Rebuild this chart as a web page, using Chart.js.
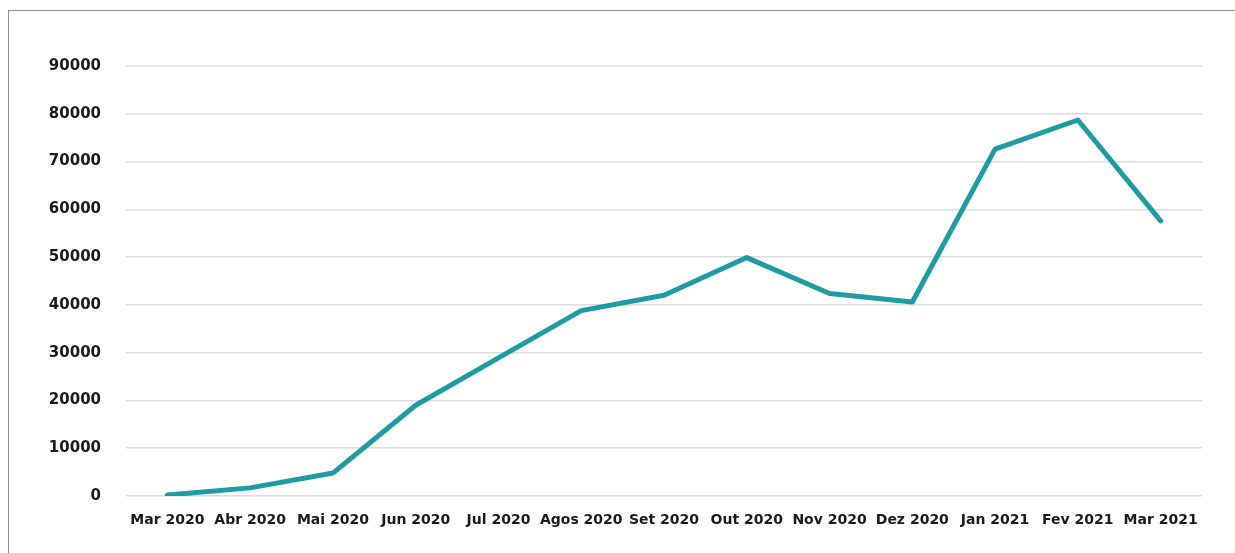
<!DOCTYPE html>
<html lang="pt">
<head>
    <meta charset="UTF-8">
    <title>Evolução mensal</title>
    <script src="https://cdn.jsdelivr.net/npm/chart.js@4.4.0/dist/chart.umd.min.js"></script>
    <style>
        html, body {
            margin: 0;
            padding: 0;
            background: #ffffff;
            overflow: hidden;
        }
        .frame {
            position: absolute;
            left: 8px;
            top: 10px;
            width: 1400px;
            height: 700px;
            border: 1px solid #8c8c8c;
        }
        .chart-box {
            position: absolute;
            left: 0;
            top: 0;
            width: 1235px;
            height: 553px;
        }
    </style>
</head>
<body>
    <div class="frame"></div>
    <div class="chart-box">
        <canvas id="lineChart"></canvas>
    </div>

    <script>
        // months on the x axis
        const months = ['Mar 2020', 'Abr 2020', 'Mai 2020', 'Jun 2020', 'Jul 2020', 'Agos 2020',
            'Set 2020', 'Out 2020', 'Nov 2020', 'Dez 2020', 'Jan 2021', 'Fev 2021', 'Mar 2021'];

        // values
        const values = [200, 1700, 4800, 19000, 28900, 38800, 42000, 49900, 42400, 40600, 72600, 78700, 57600];

        // y axis range
        const yMin = 0;
        const yMax = 90000;
        const yStep = 10000;

        new Chart(document.getElementById('lineChart'), {
            type: 'line',
            data: {
                labels: months,
                datasets: [{
                    data: values,
                    borderColor: '#1e9ca3',
                    borderWidth: 5,
                    tension: 0,
                    pointRadius: 0,
                    fill: false,
                    borderCapStyle: 'round',
                    borderJoinStyle: 'round'
                }]
            },
            options: {
                responsive: true,
                maintainAspectRatio: false,
                animation: false,
                layout: {
                    padding: { top: 66, right: 33, left: 0, bottom: 0 }
                },
                plugins: {
                    legend: { display: false },
                    tooltip: { enabled: false }
                },
                scales: {
                    x: {
                        offset: true,
                        grid: { display: false },
                        border: { display: false },
                        ticks: {
                            color: '#1a1a1a',
                            font: { family: 'DejaVu Sans', weight: 'bold', size: 14 },
                            padding: 8,
                            maxRotation: 0,
                            autoSkip: false
                        },
                        afterFit: function(scale) {
                            scale.height = 57;
                        }
                    },
                    y: {
                        min: yMin,
                        max: yMax,
                        grid: {
                            color: '#dcdcdc',
                            lineWidth: 1.5,
                            drawTicks: false
                        },
                        border: { display: false },
                        ticks: {
                            stepSize: yStep,
                            color: '#1a1a1a',
                            font: { family: 'DejaVu Sans', weight: 'bold', size: 15 },
                            padding: 25,
                            callback: function(value) {
                                return String(value);
                            }
                        },
                        afterFit: function(scale) {
                            scale.width = 126;
                        }
                    }
                }
            }
        });
    </script>
</body>
</html>
